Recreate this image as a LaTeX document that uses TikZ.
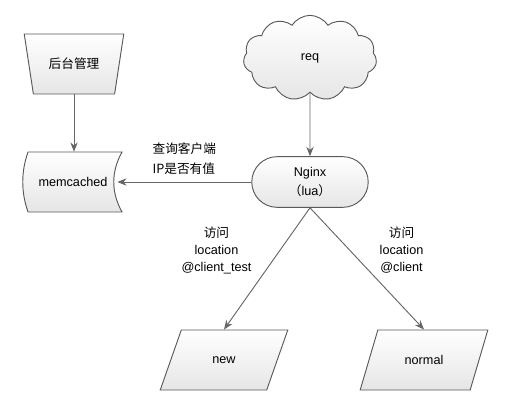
\documentclass[tikz,border=0pt]{standalone}
\usepackage{fontspec}
\setmainfont{Liberation Sans}
\newfontfamily\cjk{Noto Sans CJK SC}
\usetikzlibrary{shapes.geometric, shapes.symbols, shapes.misc, positioning, calc, arrows.meta, backgrounds}

\tikzset{
  box/.style={draw=black!65, line width=0.7pt, top color=white, bottom color=black!10,
    font=\fontsize{9.5}{12.75}\selectfont, align=center},
  flow/.style={draw=black!60, line width=0.7pt, -{Stealth[length=7pt,width=5.5pt]}},
  lbl/.style={font=\fontsize{9.5}{12.75}\selectfont, align=center, inner sep=1pt},
}

\begin{document}
\begin{tikzpicture}[x=0.75pt, y=-0.75pt]
            \useasboundingbox (0,0) rectangle (510,409);

            % Admin and cache
            \node[box, trapezium, trapezium left angle=108, trapezium right angle=108,
                  trapezium stretches=true, minimum width=75pt, minimum height=45pt] (admin) at (74,64) {\cjk 后台管理};
            \node[lbl, minimum width=66pt, minimum height=45pt, inner sep=0pt] (mem) at (73,182) {memcached};
            \begin{scope}[on background layer]
                \draw[box] (28,152) .. controls (21,172) and (21,192) .. (28,212)
                    -- (122,212) .. controls (111,192) and (111,172) .. (122,152) -- cycle;
            \end{scope}

            % Request and Nginx
            \node[box, cloud, cloud puffs=11, cloud puff arc=115, aspect=1.8,
                  minimum width=100pt, minimum height=64pt] (req) at (310,58) {req};
            \node[box, rounded rectangle, minimum width=94pt, minimum height=38pt,
                  font=\fontsize{9.5}{14}\selectfont] (nginx) at (310,182) {Nginx\\{\cjk （}lua{\cjk ）}};

            % Targets
            \node[box, trapezium, trapezium left angle=63.4, trapezium right angle=116.6,
                  trapezium stretches=true, minimum width=96pt, minimum height=45pt] (new) at (224,360) {new};
            \node[box, trapezium, trapezium left angle=63.4, trapezium right angle=116.6,
                  trapezium stretches=true, minimum width=96pt, minimum height=45pt] (normal) at (424,360) {normal};

            % Connectors
            \draw[flow] (admin.south) -- (admin.south |- mem.north);
            \draw[flow] (req.south) -- (nginx.north);
            \draw[flow] (nginx.west) -- node[lbl, above=4pt, align=left,
                  font=\cjk\fontsize{9.5}{15}\selectfont] (askip) {查询客户端\\IP是否有值} (mem.east);
            \draw[flow] (nginx.south) -- node[lbl, pos=0.35, left=20pt] (lblnew) {{\cjk 访问}\\location\\@client\_test} (new.center |- new.north);
            \draw[flow] (nginx.south) -- node[lbl, pos=0.35, right=21pt] (lblnormal) {{\cjk 访问}\\location\\@client} (normal.center |- normal.north);

        \end{tikzpicture}
\end{document}
